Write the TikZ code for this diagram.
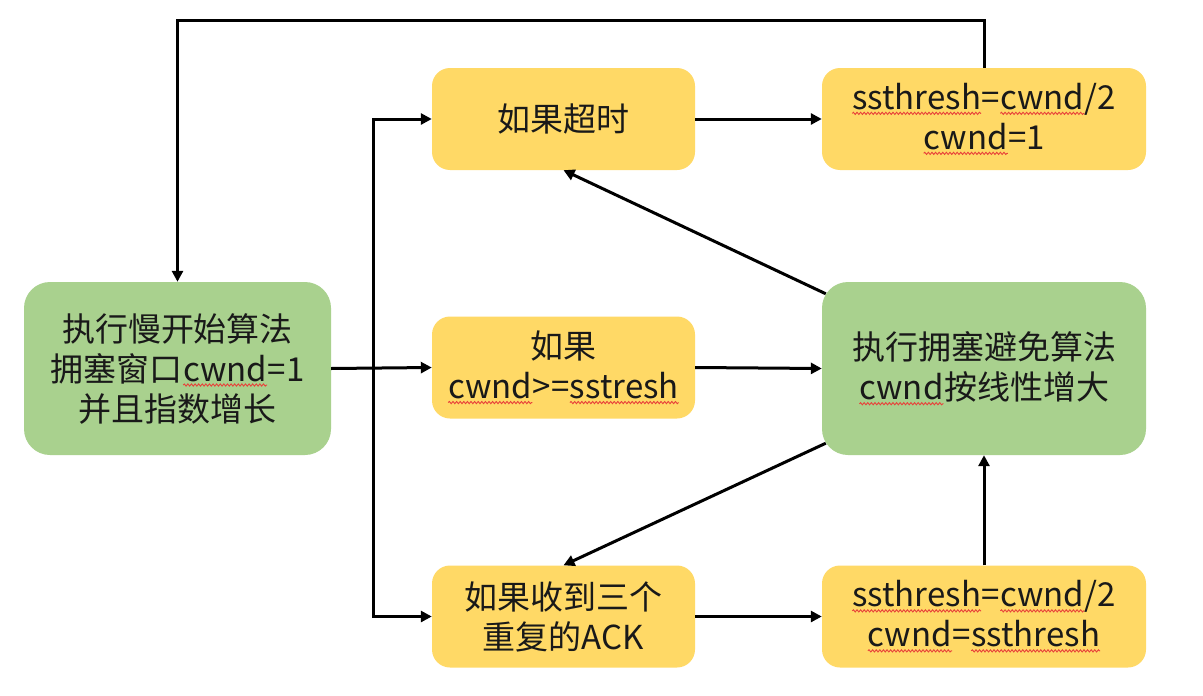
\documentclass[tikz,border=0pt]{standalone}
\usepackage{fontspec}
\setmainfont{Noto Sans CJK SC}
\usetikzlibrary{arrows.meta,decorations.pathmorphing,calc}
\definecolor{boxyellow}{HTML}{FFD966}
\definecolor{boxgreen}{HTML}{A9D18E}
\definecolor{wavered}{HTML}{E8413A}
\newcommand\wv[1]{\tikz[baseline=(w.base),x=1pt,y=1pt]{\node[inner sep=0pt,outer sep=0pt,minimum width=0pt,minimum height=0pt,fill=none,draw=none,rounded corners=0pt,anchor=base](w) at (0,0){#1};\draw[wavered,line width=0.9pt,rounded corners=0pt,decorate,decoration={snake,amplitude=1.1pt,segment length=3.6pt}]([yshift=-4pt]w.base west)--([yshift=-4pt]w.base east);}}
\tikzset{
  txt/.style={align=center,font=\fontsize{33}{40}\selectfont,text=black!90},
  ybox/.style={txt,fill=boxyellow,rounded corners=18pt,minimum height=102pt,inner sep=0pt},
  gbox/.style={txt,fill=boxgreen,rounded corners=26pt,minimum height=173pt,inner sep=0pt},
  arr/.style={line width=3pt,-{Triangle[length=11pt,width=11pt]}}
}
\begin{document}
\begin{tikzpicture}[x=1pt,y=-1pt]
\useasboundingbox[fill=white] (0,0) rectangle (1203,696);
\node[gbox,minimum width=307pt] (L) at (177.5,368.5) {执行慢开始算法\\拥塞窗口\wv{cwnd}=1\\并且指数增长};
\node[ybox,minimum width=263pt] (T1) at (563.5,119) {如果超时};
\node[ybox,minimum width=324pt] (T2) at (984,119) {\wv{ssthresh}=\wv{cwnd}/2\\\wv{cwnd}=1};
\node[ybox,minimum width=263pt] (M1) at (563.5,367.5) {如果\\\wv{cwnd}>=\wv{sstresh}};
\node[gbox,minimum width=324pt] (R) at (984,368.5) {执行拥塞避免算法\\\wv{cwnd}按线性增大};
\node[ybox,minimum width=263pt] (B1) at (563.5,616.5) {如果收到三个\\重复的ACK};
\node[ybox,minimum width=324pt] (B2) at (984,616.5) {\wv{ssthresh}=\wv{cwnd}/2\\\wv{cwnd}=\wv{ssthresh}};
\coordinate (topy) at (0,20);
\coordinate (J) at (373,368);
\draw[arr] (T2.north) -- (T2.north |- topy) -| (L.north);
\draw[arr] (L.east) -- (M1.west);
\draw[arr] (J) |- (T1.west);
\draw[arr] (J) |- (B1.west);
\draw[arr] (T1.east) -- (T2.west);
\draw[arr] (M1.east) -- (R.west);
\draw[arr] (B1.east) -- (B2.west);
\draw[arr] (B2.north) -- (R.south);
\draw[arr] ([xshift=4pt,yshift=-12pt]R.north west) -- (T1.south);
\draw[arr] ([xshift=4pt,yshift=12pt]R.south west) -- (B1.north);
\end{tikzpicture}
\end{document}
